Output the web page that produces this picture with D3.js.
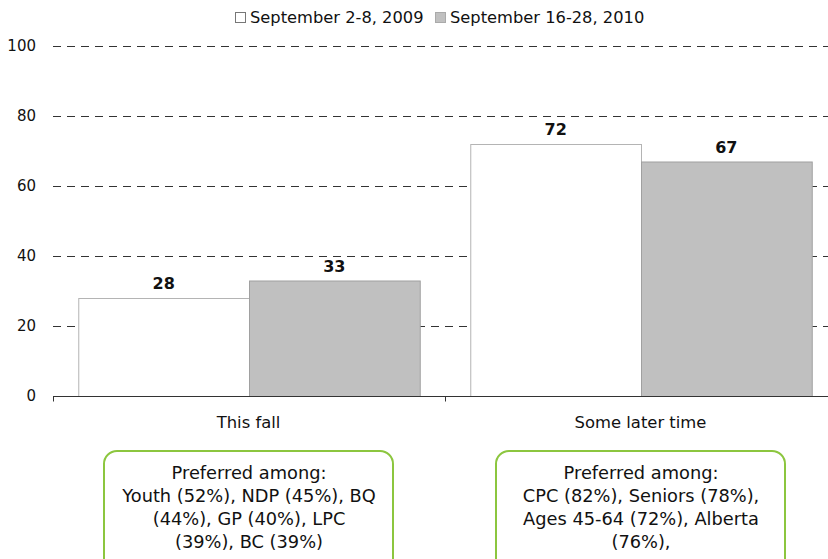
<!DOCTYPE html>
<html>
<head>
<meta charset="utf-8">
<script src="https://cdn.jsdelivr.net/npm/d3@7"></script>
<style>
  body { margin: 0; background: #fff; }
  svg { display: block; font-family: "DejaVu Sans", sans-serif; }
</style>
</head>
<body>
<svg id="chart" width="828" height="559"></svg>
<script>
const categories = ["This fall", "Some later time"];
const seriesNames = ["September 2-8, 2009", "September 16-28, 2010"];
const values2009 = [28, 72];
const values2010 = [33, 67];
const yTicks = [0, 20, 40, 60, 80, 100];
const notes = [
  ["Preferred among:", "Youth (52%), NDP (45%), BQ", "(44%), GP (40%), LPC", "(39%), BC (39%)"],
  ["Preferred among:", "CPC (82%), Seniors (78%),", "Ages 45-64 (72%), Alberta", "(76%),"]
];

const svg = d3.select("#chart");
const margin = { left: 53, right: -9, top: 46, bottom: 163 };
const width = 828, height = 559;

const x0 = d3.scaleBand()
  .domain(categories)
  .range([margin.left, width - margin.right])
  .paddingInner(0)
  .paddingOuter(0);

const x1 = d3.scaleBand()
  .domain(seriesNames)
  .range([0, x0.bandwidth()])
  .paddingOuter(0.148);

const y = d3.scaleLinear().domain([0, 100]).range([height - margin.bottom, margin.top]);

const fills = ["#ffffff", "#c0c0c0"];
const strokes = ["#b4b4b4", "#a0a0a0"];

// gridlines
svg.append("g")
  .selectAll("line")
  .data(yTicks.filter(d => d > 0))
  .enter()
  .append("line")
  .attr("x1", margin.left)
  .attr("x2", width)
  .attr("y1", d => y(d) + 0.5)
  .attr("y2", d => y(d) + 0.5)
  .style("stroke", "#333")
  .style("stroke-width", 1)
  .style("stroke-dasharray", "8,6");

// y tick labels
svg.append("g")
  .selectAll("text")
  .data(yTicks)
  .enter()
  .append("text")
  .attr("x", margin.left - 17)
  .attr("y", d => y(d))
  .attr("dy", "0.35em")
  .attr("text-anchor", "end")
  .style("font-size", "15px")
  .style("fill", "#111")
  .text(d => d);

// bars
const data = categories.map((c, i) => ({ cat: c, vals: [values2009[i], values2010[i]] }));
const groups = svg.append("g")
  .selectAll("g")
  .data(data)
  .enter()
  .append("g")
  .attr("transform", d => `translate(${x0(d.cat)},0)`);

groups.selectAll("rect")
  .data(d => d.vals.map((v, j) => ({ v, s: seriesNames[j], j })))
  .enter()
  .append("rect")
  .attr("x", d => x1(d.s) + 0.5)
  .attr("y", d => y(d.v) + 0.5)
  .attr("width", x1.bandwidth())
  .attr("height", d => y(0) - y(d.v))
  .style("fill", d => fills[d.j])
  .style("stroke", d => strokes[d.j])
  .style("stroke-width", 1);

groups.selectAll("text")
  .data(d => d.vals.map((v, j) => ({ v, s: seriesNames[j] })))
  .enter()
  .append("text")
  .attr("x", d => x1(d.s) + x1.bandwidth() / 2)
  .attr("y", d => y(d.v) - 9)
  .attr("text-anchor", "middle")
  .style("font-size", "16px")
  .style("font-weight", "bold")
  .style("fill", "#111")
  .text(d => d.v);

// x axis
const axisY = y(0) + 0.5;
svg.append("line")
  .attr("x1", margin.left)
  .attr("x2", width)
  .attr("y1", axisY)
  .attr("y2", axisY)
  .style("stroke", "#333")
  .style("stroke-width", 1.2);

svg.append("g")
  .selectAll("line")
  .data(categories)
  .enter()
  .append("line")
  .attr("x1", d => x0(d) + 0.5)
  .attr("x2", d => x0(d) + 0.5)
  .attr("y1", axisY)
  .attr("y2", axisY + 5)
  .style("stroke", "#333");

svg.append("g")
  .selectAll("text")
  .data(categories)
  .enter()
  .append("text")
  .attr("x", d => x0(d) + x0.bandwidth() / 2 - 0.5)
  .attr("y", 428)
  .attr("text-anchor", "middle")
  .style("font-size", "16.4px")
  .style("fill", "#111")
  .text(d => d);

// legend
const legend = svg.append("g");
const legendX = [235, 435];
seriesNames.forEach((s, i) => {
  legend.append("rect")
    .attr("x", legendX[i] + 0.5)
    .attr("y", 12.5)
    .attr("width", 10)
    .attr("height", 10)
    .style("fill", fills[i])
    .style("stroke", i === 0 ? "#777" : "#aaa");
  legend.append("text")
    .attr("x", legendX[i] + 15)
    .attr("y", 17)
    .attr("dy", "0.35em")
    .style("font-size", "16.3px")
    .style("fill", "#111")
    .text(s);
});

// note boxes
const boxes = svg.append("g")
  .selectAll("g")
  .data(notes)
  .enter()
  .append("g")
  .attr("transform", (d, i) => `translate(${x0(categories[i]) + x0.bandwidth() / 2},0)`);

boxes.append("rect")
  .attr("x", -145)
  .attr("y", 451)
  .attr("width", 289)
  .attr("height", 120)
  .attr("rx", 13)
  .style("fill", "#fff")
  .style("stroke", "#8cc63f")
  .style("stroke-width", 2);

boxes.selectAll("text")
  .data(d => d)
  .enter()
  .append("text")
  .attr("x", 0)
  .attr("y", (d, i) => 479 + i * 23)
  .attr("text-anchor", "middle")
  .style("font-size", "17.8px")
  .style("fill", "#111")
  .text(d => d);
</script>
</body>
</html>
